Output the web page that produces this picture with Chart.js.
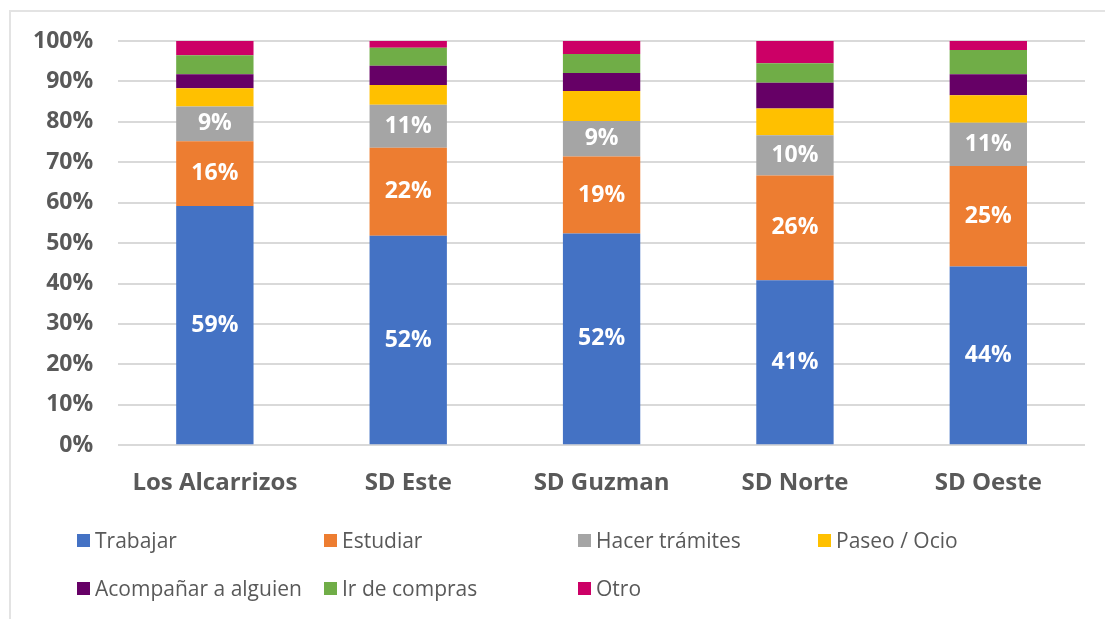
<!DOCTYPE html>
<html>
<head>
<meta charset="utf-8">
<script src="https://cdn.jsdelivr.net/npm/chart.js@4.4.1/dist/chart.umd.min.js"></script>
<style>
  html, body { margin: 0; padding: 0; background: #fff; }
  #wrap { position: relative; width: 1105px; height: 619px; overflow: hidden; }
  #frame { position: absolute; left: 9px; top: 10px; right: -2px; bottom: -2px;
    border-left: 2px solid #e3e3e3; border-top: 2px solid #e3e3e3; }
  #myChart { position: absolute; left: 0; top: 0; }
  #legend { position: absolute; left: 77px; top: 526px; width: 1000px;
    display: grid; grid-template-columns: 247px 254px 240px 240px; row-gap: 20px;
    font-family: "Open Sans", sans-serif; font-size: 21px; color: #595959; }
  #legend .item { display: flex; align-items: center; white-space: nowrap; height: 28px; }
  #legend .box { width: 13px; height: 13px; margin-right: 5px; flex: none; }
</style>
</head>
<body>
<div id="wrap">
  <div id="frame"></div>
  <canvas id="myChart" width="1105" height="619"></canvas>
  <div id="legend"></div>
</div>
<script>
const categories = ['Los Alcarrizos', 'SD Este', 'SD Guzman', 'SD Norte', 'SD Oeste'];

const trabajar = [59.2, 51.8, 52.4, 40.8, 44.2];
const estudiar = [16.0, 21.8, 19.0, 25.9, 24.9];
const tramites = [8.6, 10.6, 8.8, 10.0, 10.7];
const paseo = [4.5, 4.9, 7.4, 6.6, 6.8];
const acompanar = [3.5, 4.8, 4.5, 6.4, 5.2];
const compras = [4.7, 4.4, 4.7, 4.8, 6.0];
const otro = [3.5, 1.7, 3.2, 5.5, 2.2];

const yTicks = [0, 10, 20, 30, 40, 50, 60, 70, 80, 90, 100];

const series = [
  { label: 'Trabajar', data: trabajar, color: '#4472C4', showValue: true },
  { label: 'Estudiar', data: estudiar, color: '#ED7D31', showValue: true },
  { label: 'Hacer trámites', data: tramites, color: '#A5A5A5', showValue: true },
  { label: 'Paseo / Ocio', data: paseo, color: '#FFC000', showValue: false },
  { label: 'Acompañar a alguien', data: acompanar, color: '#660066', showValue: false },
  { label: 'Ir de compras', data: compras, color: '#70AD47', showValue: false },
  { label: 'Otro', data: otro, color: '#CC0066', showValue: false },
];

// etiquetas blancas dentro de los segmentos
const valueLabels = {
  id: 'valueLabels',
  afterDatasetsDraw(chart) {
    const { ctx } = chart;
    chart.data.datasets.forEach((ds, i) => {
      if (!series[i].showValue) return;
      const meta = chart.getDatasetMeta(i);
      meta.data.forEach((bar, j) => {
        ctx.save();
        ctx.fillStyle = '#fff';
        ctx.font = 'bold 23px "Open Sans", sans-serif';
        ctx.textAlign = 'center';
        ctx.textBaseline = 'middle';
        ctx.fillText(Math.round(ds.data[j]) + '%', bar.x, (bar.y + bar.base) / 2);
        ctx.restore();
      });
    });
  },
};

new Chart(document.getElementById('myChart'), {
  type: 'bar',
  data: {
    labels: categories,
    datasets: series.map((s) => ({
      label: s.label,
      data: s.data,
      backgroundColor: s.color,
      borderWidth: 0,
      categoryPercentage: 0.4,
      barPercentage: 1,
    })),
  },
  options: {
    responsive: false,
    animation: false,
    layout: { padding: { top: 41, right: 20, left: 8, bottom: 97 } },
    plugins: {
      legend: { display: false },
      tooltip: { enabled: false },
    },
    scales: {
      x: {
        stacked: true,
        grid: { display: false, drawTicks: false },
        border: { display: false },
        ticks: {
          padding: 24,
          color: '#595959',
          font: { family: 'Open Sans', size: 24, weight: 'bold' },
        },
      },
      y: {
        stacked: true,
        min: 0,
        max: 100,
        afterBuildTicks: (axis) => { axis.ticks = yTicks.map((v) => ({ value: v })); },
        grid: { color: '#d9d9d9', lineWidth: 2, drawTicks: false },
        border: { display: false },
        ticks: {
          padding: 25,
          color: '#595959',
          font: { family: 'Open Sans', size: 23, weight: 'bold' },
          callback: (v) => v + '%',
        },
      },
    },
  },
  plugins: [valueLabels],
});

// leyenda en dos filas, como en Excel
const legend = document.getElementById('legend');
series.forEach((s) => {
  const item = document.createElement('div');
  item.className = 'item';
  const box = document.createElement('span');
  box.className = 'box';
  box.style.background = s.color;
  const txt = document.createElement('span');
  txt.textContent = s.label;
  item.appendChild(box);
  item.appendChild(txt);
  legend.appendChild(item);
});
</script>
</body>
</html>
